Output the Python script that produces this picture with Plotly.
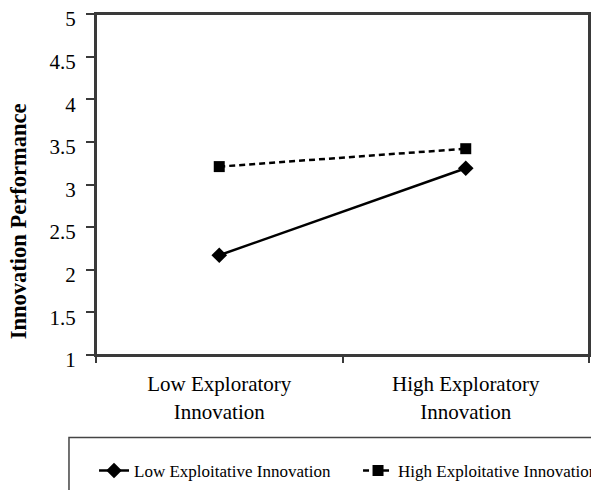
import plotly.graph_objects as go

categories = ["Low Exploratory<br>Innovation", "High Exploratory<br>Innovation"]
low_exploitative = [2.17, 3.19]
high_exploitative = [3.21, 3.42]
series_names = ["Low Exploitative Innovation", "High Exploitative Innovation"]
y_title = "Innovation Performance"
y_tick_values = [1, 1.5, 2, 2.5, 3, 3.5, 4, 4.5, 5]
y_tick_labels = ["1", "1.5", "2", "2.5", "3", "3.5", "4", "4.5", "5"]

SERIF = "Liberation Serif, Times New Roman, serif"

fig = go.Figure()
fig.add_trace(go.Scatter(
    x=categories, y=low_exploitative, name=series_names[0],
    mode="lines+markers",
    line=dict(color="black", width=2.5),
    marker=dict(symbol="diamond", size=12, color="black"),
))
fig.add_trace(go.Scatter(
    x=categories, y=high_exploitative, name=series_names[1],
    mode="lines+markers",
    line=dict(color="black", width=2.5, dash="6px,4px"),
    marker=dict(symbol="square", size=11, color="black"),
))

axis_line = dict(showline=True, linecolor="#3a3a3a", linewidth=2, mirror=True,
                 showgrid=False, zeroline=False, automargin=False)

fig.update_xaxes(
    type="category", range=[-0.5, 1.5], tickson="boundaries", ticks="outside", ticklen=6,
    tickcolor="#3a3a3a", tickwidth=1.5, ticklabelstandoff=9,
    tickfont=dict(family=SERIF, size=21, color="black"),
    **axis_line,
)
fig.update_yaxes(
    range=[1, 5], tickvals=y_tick_values, ticktext=y_tick_labels,
    ticks="outside", ticklen=8, tickcolor="#3a3a3a", tickwidth=1.5,
    ticklabelstandoff=6, ticklabelshift=5, ticklabeloverflow="allow",
    tickfont=dict(family=SERIF, size=21, color="black"),
    **axis_line,
)

# y-axis title placed as annotation (sits below the axis centre in the reference)
fig.add_annotation(text=f"<b>{y_title}</b>", xref="paper", yref="paper",
                   x=0, y=0.391, xanchor="center", yanchor="middle", xshift=-77.5,
                   textangle=-90, showarrow=False,
                   font=dict(family=SERIF, size=22.5, color="black"))

# plot frame and legend box
fig.add_shape(type="rect", xref="paper", yref="paper", x0=0, x1=1, y0=0, y1=1,
              line=dict(color="#3a3a3a", width=2), fillcolor="rgba(0,0,0,0)", layer="above")
fig.add_shape(type="rect", xref="paper", yref="paper",
              x0=-0.0548, x1=1.2, y0=-0.2416, y1=-0.6,
              line=dict(color="#444", width=1.5), fillcolor="rgba(0,0,0,0)")

fig.update_layout(
    width=591, height=482,
    margin=dict(l=88, r=10, t=6, b=134.5, autoexpand=False),
    plot_bgcolor="white", paper_bgcolor="white",
    showlegend=True,
    legend=dict(orientation="h", x=-0.004, xanchor="left", y=-0.34, yanchor="middle",
                font=dict(family=SERIF, size=17, color="black"),
                entrywidth=219, entrywidthmode="pixels",
                bgcolor="rgba(0,0,0,0)", borderwidth=0),
)

fig.write_html("out.html", config={"displayModeBar": False})
